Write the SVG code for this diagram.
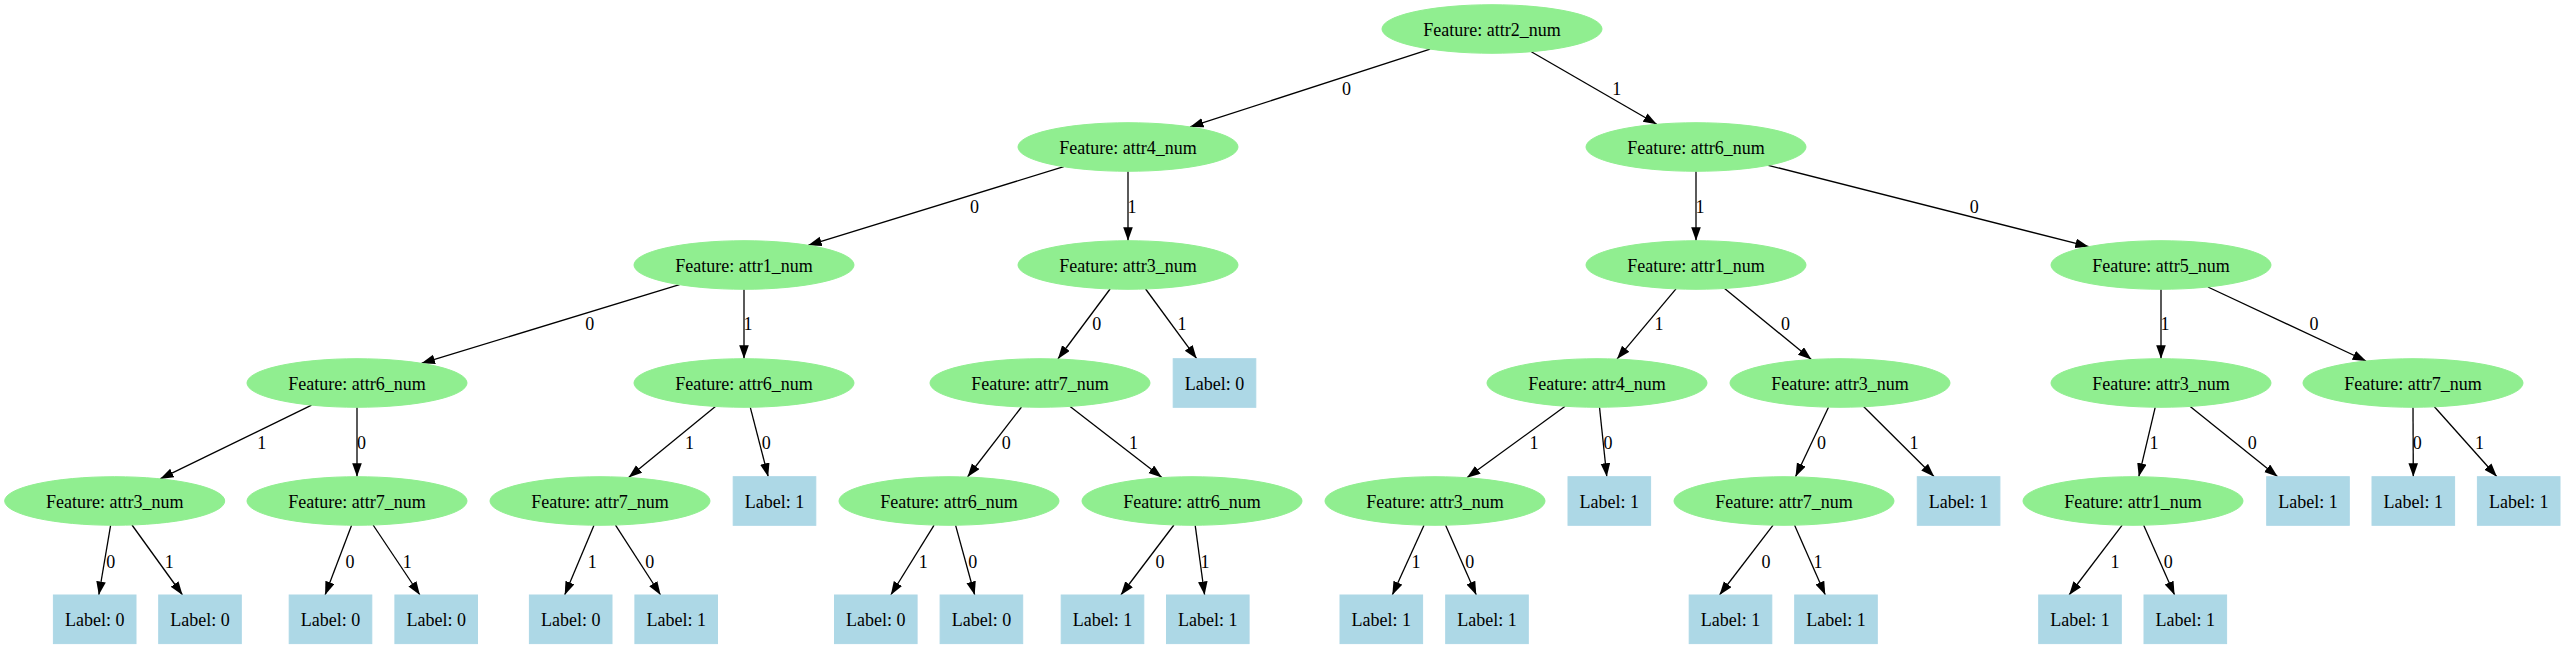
<svg xmlns="http://www.w3.org/2000/svg" width="2565" height="649" viewBox="0 0 2565 649">
<style>
.f ellipse{fill:#90ee90;stroke:#90ee90;stroke-width:1}
.l rect{fill:#add8e6;stroke:#add8e6;stroke-width:1}
text{font-family:"Liberation Serif","Times New Roman",serif;font-size:18px;fill:#000;text-anchor:middle}
#edges line{stroke:#000;stroke-width:1.3;marker-end:url(#arr)}
</style>
<defs>
<marker id="arr" markerWidth="15" markerHeight="11" refX="13.5" refY="4.8" orient="auto" markerUnits="userSpaceOnUse"><path d="M0,0 L13.5,4.8 L0,9.6 z" fill="#000"/></marker>
</defs>
<rect width="2565" height="649" fill="#fff"/>
<g id="edges">
<line x1="1430.1" y1="49.1" x2="1190" y2="126.9"/><text x="1346.4" y="95">0</text>
<line x1="1531.3" y1="51.7" x2="1656.8" y2="124.3"/><text x="1616.7" y="95">1</text>
<line x1="1063.8" y1="166.7" x2="808.2" y2="245.3"/><text x="974.5" y="213">0</text>
<line x1="1128" y1="171.3" x2="1128" y2="240.7"/><text x="1132" y="213">1</text>
<line x1="1696" y1="171.3" x2="1696" y2="240.7"/><text x="1700" y="213">1</text>
<line x1="1768.2" y1="165.3" x2="2088.8" y2="246.7"/><text x="1974.2" y="213">0</text>
<line x1="679.5" y1="284.7" x2="421.5" y2="363.3"/><text x="589.7" y="330">0</text>
<line x1="744" y1="289.3" x2="744" y2="358.7"/><text x="748" y="330">1</text>
<line x1="1110.1" y1="289" x2="1057.9" y2="359"/><text x="1096.8" y="330">0</text>
<line x1="1145.6" y1="289" x2="1196.7" y2="358.7"/><text x="1181.9" y="330">1</text>
<line x1="1676" y1="288.9" x2="1617" y2="359.1"/><text x="1659" y="330">1</text>
<line x1="1724.6" y1="288.5" x2="1811.4" y2="359.5"/><text x="1785.5" y="330">0</text>
<line x1="2161" y1="289.3" x2="2161" y2="358.7"/><text x="2165" y="330">1</text>
<line x1="2207.9" y1="287" x2="2366.1" y2="361"/><text x="2314" y="330">0</text>
<line x1="311.6" y1="405.1" x2="160.1" y2="478.9"/><text x="261.7" y="449">1</text>
<line x1="357" y1="407.3" x2="357" y2="476.7"/><text x="361.5" y="449">0</text>
<line x1="715.4" y1="406.5" x2="628.6" y2="477.5"/><text x="689.5" y="449">1</text>
<line x1="750.3" y1="407.3" x2="768.2" y2="476.7"/><text x="766.3" y="449">0</text>
<line x1="1021.5" y1="407" x2="967.5" y2="477"/><text x="1006.3" y="449">0</text>
<line x1="1070.1" y1="406.4" x2="1161.9" y2="477.6"/><text x="1133.6" y="449">1</text>
<line x1="1565.1" y1="406.3" x2="1466.9" y2="477.7"/><text x="1534" y="449">1</text>
<line x1="1599.5" y1="407.3" x2="1606.8" y2="476.7"/><text x="1608" y="449">0</text>
<line x1="1828.5" y1="407.2" x2="1795.5" y2="476.8"/><text x="1821.4" y="449">0</text>
<line x1="1863.8" y1="406.7" x2="1934.2" y2="476.7"/><text x="1914" y="449">1</text>
<line x1="2155.2" y1="407.3" x2="2138.8" y2="476.7"/><text x="2154" y="449">1</text>
<line x1="2190.2" y1="406.4" x2="2277.7" y2="476.7"/><text x="2252.2" y="449">0</text>
<line x1="2413" y1="407.3" x2="2413.3" y2="476.7"/><text x="2417.2" y="449">0</text>
<line x1="2434.4" y1="406.8" x2="2496.9" y2="476.7"/><text x="2479.5" y="449">1</text>
<line x1="110.6" y1="525.3" x2="98.8" y2="595"/><text x="110.7" y="568">0</text>
<line x1="132" y1="525" x2="182.5" y2="595"/><text x="169.3" y="568">1</text>
<line x1="351.6" y1="525.3" x2="325.1" y2="595"/><text x="350" y="568">0</text>
<line x1="373.1" y1="525" x2="419.9" y2="595"/><text x="407.3" y="568">1</text>
<line x1="594" y1="525.3" x2="564.7" y2="595"/><text x="592.3" y="568">1</text>
<line x1="615.5" y1="525.1" x2="660.6" y2="595"/><text x="649.7" y="568">0</text>
<line x1="934.1" y1="525.1" x2="890.8" y2="595"/><text x="923.3" y="568">1</text>
<line x1="955.6" y1="525.3" x2="974.7" y2="595"/><text x="972.7" y="568">0</text>
<line x1="1173.9" y1="525" x2="1120.9" y2="595"/><text x="1160" y="568">0</text>
<line x1="1195.2" y1="525.3" x2="1204.6" y2="595"/><text x="1205" y="568">1</text>
<line x1="1424" y1="525.2" x2="1392.3" y2="595"/><text x="1416" y="568">1</text>
<line x1="1445.6" y1="525.2" x2="1476.3" y2="595"/><text x="1469.7" y="568">0</text>
<line x1="1773.1" y1="525.2" x2="1719.5" y2="595"/><text x="1766" y="568">0</text>
<line x1="1794.6" y1="525.2" x2="1825.3" y2="595"/><text x="1817.9" y="568">1</text>
<line x1="2122.2" y1="525.2" x2="2069.1" y2="595"/><text x="2115" y="568">1</text>
<line x1="2143.7" y1="525.2" x2="2174.6" y2="595"/><text x="2168.3" y="568">0</text>
</g>
<g id="n0" class="f"><ellipse cx="1492" cy="29" rx="110" ry="24.3"/><text x="1492" y="35.5">Feature: attr2_num</text></g>
<g id="n1" class="f"><ellipse cx="1128" cy="147" rx="110" ry="24.3"/><text x="1128" y="153.5">Feature: attr4_num</text></g>
<g id="n2" class="f"><ellipse cx="1696" cy="147" rx="110" ry="24.3"/><text x="1696" y="153.5">Feature: attr6_num</text></g>
<g id="n3" class="f"><ellipse cx="744" cy="265" rx="110" ry="24.3"/><text x="744" y="271.5">Feature: attr1_num</text></g>
<g id="n4" class="f"><ellipse cx="1128" cy="265" rx="110" ry="24.3"/><text x="1128" y="271.5">Feature: attr3_num</text></g>
<g id="n5" class="f"><ellipse cx="1696" cy="265" rx="110" ry="24.3"/><text x="1696" y="271.5">Feature: attr1_num</text></g>
<g id="n6" class="f"><ellipse cx="2161" cy="265" rx="110" ry="24.3"/><text x="2161" y="271.5">Feature: attr5_num</text></g>
<g id="n7" class="f"><ellipse cx="357" cy="383" rx="110" ry="24.3"/><text x="357" y="389.5">Feature: attr6_num</text></g>
<g id="n8" class="f"><ellipse cx="744" cy="383" rx="110" ry="24.3"/><text x="744" y="389.5">Feature: attr6_num</text></g>
<g id="n9" class="f"><ellipse cx="1040" cy="383" rx="110" ry="24.3"/><text x="1040" y="389.5">Feature: attr7_num</text></g>
<g id="n10" class="l"><rect x="1173.2" y="358.7" width="82.6" height="48.6"/><text x="1214.5" y="389.5">Label: 0</text></g>
<g id="n11" class="f"><ellipse cx="1597" cy="383" rx="110" ry="24.3"/><text x="1597" y="389.5">Feature: attr4_num</text></g>
<g id="n12" class="f"><ellipse cx="1840" cy="383" rx="110" ry="24.3"/><text x="1840" y="389.5">Feature: attr3_num</text></g>
<g id="n13" class="f"><ellipse cx="2161" cy="383" rx="110" ry="24.3"/><text x="2161" y="389.5">Feature: attr3_num</text></g>
<g id="n14" class="f"><ellipse cx="2413" cy="383" rx="110" ry="24.3"/><text x="2413" y="389.5">Feature: attr7_num</text></g>
<g id="n15" class="f"><ellipse cx="114.7" cy="501" rx="110" ry="24.3"/><text x="114.7" y="507.5">Feature: attr3_num</text></g>
<g id="n16" class="f"><ellipse cx="357" cy="501" rx="110" ry="24.3"/><text x="357" y="507.5">Feature: attr7_num</text></g>
<g id="n17" class="f"><ellipse cx="600" cy="501" rx="110" ry="24.3"/><text x="600" y="507.5">Feature: attr7_num</text></g>
<g id="n18" class="l"><rect x="733.2" y="476.7" width="82.6" height="48.6"/><text x="774.5" y="507.5">Label: 1</text></g>
<g id="n19" class="f"><ellipse cx="949" cy="501" rx="110" ry="24.3"/><text x="949" y="507.5">Feature: attr6_num</text></g>
<g id="n20" class="f"><ellipse cx="1192" cy="501" rx="110" ry="24.3"/><text x="1192" y="507.5">Feature: attr6_num</text></g>
<g id="n21" class="f"><ellipse cx="1435" cy="501" rx="110" ry="24.3"/><text x="1435" y="507.5">Feature: attr3_num</text></g>
<g id="n22" class="l"><rect x="1568" y="476.7" width="82.6" height="48.6"/><text x="1609.3" y="507.5">Label: 1</text></g>
<g id="n23" class="f"><ellipse cx="1784" cy="501" rx="110" ry="24.3"/><text x="1784" y="507.5">Feature: attr7_num</text></g>
<g id="n24" class="l"><rect x="1917.3" y="476.7" width="82.6" height="48.6"/><text x="1958.6" y="507.5">Label: 1</text></g>
<g id="n25" class="f"><ellipse cx="2133" cy="501" rx="110" ry="24.3"/><text x="2133" y="507.5">Feature: attr1_num</text></g>
<g id="n26" class="l"><rect x="2266.7" y="476.7" width="82.6" height="48.6"/><text x="2308" y="507.5">Label: 1</text></g>
<g id="n27" class="l"><rect x="2372" y="476.7" width="82.6" height="48.6"/><text x="2413.3" y="507.5">Label: 1</text></g>
<g id="n28" class="l"><rect x="2477.4" y="476.7" width="82.6" height="48.6"/><text x="2518.7" y="507.5">Label: 1</text></g>
<g id="n29" class="l"><rect x="53.4" y="595" width="82.6" height="48.6"/><text x="94.7" y="625.8">Label: 0</text></g>
<g id="n30" class="l"><rect x="158.7" y="595" width="82.6" height="48.6"/><text x="200" y="625.8">Label: 0</text></g>
<g id="n31" class="l"><rect x="289.2" y="595" width="82.6" height="48.6"/><text x="330.5" y="625.8">Label: 0</text></g>
<g id="n32" class="l"><rect x="394.9" y="595" width="82.6" height="48.6"/><text x="436.2" y="625.8">Label: 0</text></g>
<g id="n33" class="l"><rect x="529.4" y="595" width="82.6" height="48.6"/><text x="570.7" y="625.8">Label: 0</text></g>
<g id="n34" class="l"><rect x="634.9" y="595" width="82.6" height="48.6"/><text x="676.2" y="625.8">Label: 1</text></g>
<g id="n35" class="l"><rect x="834.5" y="595" width="82.6" height="48.6"/><text x="875.8" y="625.8">Label: 0</text></g>
<g id="n36" class="l"><rect x="940.1" y="595" width="82.6" height="48.6"/><text x="981.4" y="625.8">Label: 0</text></g>
<g id="n37" class="l"><rect x="1061.2" y="595" width="82.6" height="48.6"/><text x="1102.5" y="625.8">Label: 1</text></g>
<g id="n38" class="l"><rect x="1166.5" y="595" width="82.6" height="48.6"/><text x="1207.8" y="625.8">Label: 1</text></g>
<g id="n39" class="l"><rect x="1340" y="595" width="82.6" height="48.6"/><text x="1381.3" y="625.8">Label: 1</text></g>
<g id="n40" class="l"><rect x="1445.7" y="595" width="82.6" height="48.6"/><text x="1487" y="625.8">Label: 1</text></g>
<g id="n41" class="l"><rect x="1689.2" y="595" width="82.6" height="48.6"/><text x="1730.5" y="625.8">Label: 1</text></g>
<g id="n42" class="l"><rect x="1794.7" y="595" width="82.6" height="48.6"/><text x="1836" y="625.8">Label: 1</text></g>
<g id="n43" class="l"><rect x="2038.7" y="595" width="82.6" height="48.6"/><text x="2080" y="625.8">Label: 1</text></g>
<g id="n44" class="l"><rect x="2144" y="595" width="82.6" height="48.6"/><text x="2185.3" y="625.8">Label: 1</text></g>
</svg>
